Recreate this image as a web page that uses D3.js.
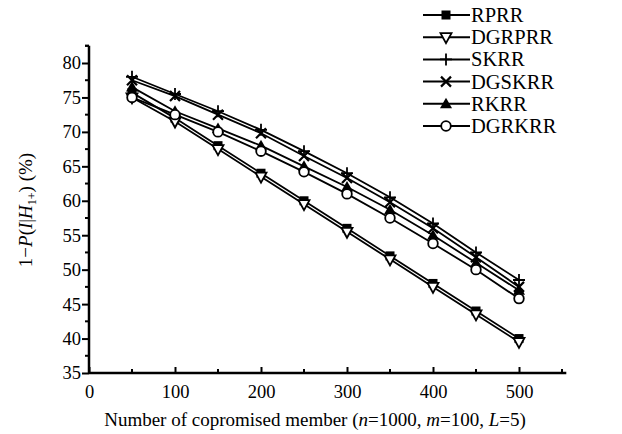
<!DOCTYPE html>
<html>
<head>
<meta charset="utf-8">
<script src="https://cdn.jsdelivr.net/npm/d3@7"></script>
<style>
  html, body { margin: 0; padding: 0; background: #fff; }
  svg text { font-family: "Liberation Serif", "Times New Roman", Times, serif; fill: #000; }
</style>
</head>
<body>
<svg id="chart" width="622" height="434"></svg>
<script>
const xValues = [50, 100, 150, 200, 250, 300, 350, 400, 450, 500];
const seriesNames = ["RPRR", "DGRPRR", "SKRR", "DGSKRR", "RKRR", "DGRKRR"];
const RPRR   = [75.7, 72.0, 68.0, 64.0, 60.0, 56.0, 52.0, 48.0, 44.0, 40.0];
const DGRPRR = [75.0, 71.5, 67.5, 63.5, 59.5, 55.5, 51.5, 47.5, 43.5, 39.5];
const SKRR   = [78.0, 75.5, 73.0, 70.3, 67.2, 64.0, 60.5, 56.7, 52.5, 48.5];
const DGSKRR = [77.5, 75.2, 72.5, 69.8, 66.5, 63.3, 59.8, 56.0, 51.8, 47.5];
const RKRR   = [76.5, 73.0, 70.5, 68.0, 65.0, 62.0, 58.7, 55.0, 51.0, 47.0];
const DGRKRR = [75.0, 72.5, 70.0, 67.2, 64.2, 61.0, 57.5, 53.8, 50.0, 45.8];
const xTicks = [0, 100, 200, 300, 400, 500];
const yTicks = [35, 40, 45, 50, 55, 60, 65, 70, 75, 80];
const markerTypes = ["squareFilled", "triDownOpen", "plus", "cross", "triUpFilled", "circleOpen"];

const seriesData = [RPRR, DGRPRR, SKRR, DGSKRR, RKRR, DGRKRR];
const FONT = '"Liberation Serif", "Times New Roman", Times, serif';

const svg = d3.select("#chart");
const x = d3.scaleLinear().domain([0, 500]).range([89, 519]);
const y = d3.scaleLinear().domain([35, 80]).range([373, 63]);

// axes
const xAxis = d3.axisBottom(x).tickValues(xTicks).tickSize(6).tickSizeOuter(0);
const gx = svg.append("g").attr("transform", `translate(0,${y(35)})`).call(xAxis)
  .attr("font-family", FONT);
gx.select(".domain").remove();
gx.selectAll(".tick line").attr("stroke", "#000").attr("stroke-width", 2).attr("y2", -6);
gx.selectAll(".tick text").attr("y", 12).attr("font-size", 18.5).style("font-family", FONT);
// minor x ticks
const xMinor = d3.range(50, 560, 100);
svg.append("g").selectAll("line").data(xMinor).join("line")
  .attr("x1", d => x(d)).attr("x2", d => x(d))
  .attr("y1", y(35)).attr("y2", y(35) - 4)
  .attr("stroke", "#000").attr("stroke-width", 2);
svg.append("line").attr("x1", x(0)).attr("x2", x(555)).attr("y1", y(35)).attr("y2", y(35))
  .attr("stroke", "#000").attr("stroke-width", 2.5);

const yAxis = d3.axisLeft(y).tickValues(yTicks).tickSize(7).tickSizeOuter(0);
const gy = svg.append("g").attr("transform", `translate(${x(0)},0)`).call(yAxis)
  .attr("font-family", FONT);
gy.select(".domain").remove();
gy.selectAll(".tick line").attr("stroke", "#000").attr("stroke-width", 2);
gy.selectAll(".tick text").attr("x", -8).attr("font-size", 18.5).style("font-family", FONT);
const yMinor = d3.range(37.5, 83, 5);
svg.append("g").selectAll("line").data(yMinor).join("line")
  .attr("x1", x(0)).attr("x2", x(0) - 4)
  .attr("y1", d => y(d)).attr("y2", d => y(d))
  .attr("stroke", "#000").attr("stroke-width", 2);
svg.append("line").attr("x1", x(0)).attr("x2", x(0)).attr("y1", y(35) + 1).attr("y2", y(82.5))
  .attr("stroke", "#000").attr("stroke-width", 2.5);
svg.append("line").attr("x1", x(0) - 4).attr("x2", x(0)).attr("y1", y(82.5)).attr("y2", y(82.5))
  .attr("stroke", "#000").attr("stroke-width", 2);

// axis titles
const xt = svg.append("text").attr("x", 315).attr("y", 426).attr("text-anchor", "middle")
  .attr("font-size", 19).style("font-family", FONT);
xt.append("tspan").text("Number of copromised member (");
xt.append("tspan").attr("font-style", "italic").text("n");
xt.append("tspan").text("=1000, ");
xt.append("tspan").attr("font-style", "italic").text("m");
xt.append("tspan").text("=100, ");
xt.append("tspan").attr("font-style", "italic").text("L");
xt.append("tspan").text("=5)");

const yt = svg.append("text").attr("transform", "translate(32,210) rotate(-90)")
  .attr("text-anchor", "middle").attr("font-size", 19).style("font-family", FONT);
yt.append("tspan").text("1\u2212");
yt.append("tspan").attr("font-style", "italic").text("P");
yt.append("tspan").text("(");
yt.append("tspan").attr("font-style", "italic").text("I");
yt.append("tspan").text("|");
yt.append("tspan").attr("font-style", "italic").text("H");
yt.append("tspan").attr("font-size", 12).attr("dy", 4).text("1+");
yt.append("tspan").attr("dy", -4).text(") (%)");

function drawMarker(g, type, cx, cy) {
  const s = 4.5;
  if (type === "squareFilled") {
    g.append("rect").attr("x", cx - s).attr("y", cy - s).attr("width", 2 * s).attr("height", 2 * s).attr("fill", "#000");
  } else if (type === "triDownOpen") {
    g.append("path").attr("d", `M${cx - 5.5},${cy - 4}L${cx + 5.5},${cy - 4}L${cx},${cy + 6}Z`)
      .attr("fill", "#fff").attr("stroke", "#000").attr("stroke-width", 1.8);
  } else if (type === "plus") {
    g.append("path").attr("d", `M${cx - 6},${cy}L${cx + 6},${cy}M${cx},${cy - 6}L${cx},${cy + 6}`)
      .attr("stroke", "#000").attr("stroke-width", 1.8);
  } else if (type === "cross") {
    g.append("path").attr("d", `M${cx - 5},${cy - 5}L${cx + 5},${cy + 5}M${cx - 5},${cy + 5}L${cx + 5},${cy - 5}`)
      .attr("stroke", "#000").attr("stroke-width", 2.2);
  } else if (type === "triUpFilled") {
    g.append("path").attr("d", `M${cx - 6},${cy + 4.5}L${cx + 6},${cy + 4.5}L${cx},${cy - 6}Z`).attr("fill", "#000");
  } else if (type === "circleOpen") {
    g.append("circle").attr("cx", cx).attr("cy", cy).attr("r", 4.8)
      .attr("fill", "#fff").attr("stroke", "#000").attr("stroke-width", 1.8);
  }
}

const line = d3.line().x((d, i) => x(xValues[i])).y(d => y(d));
const plot = svg.append("g");
seriesData.forEach((vals, k) => {
  plot.append("path").datum(vals).attr("d", line).attr("fill", "none")
    .attr("stroke", "#000").attr("stroke-width", 1.8);
});
seriesData.forEach((vals, k) => {
  const g = plot.append("g");
  vals.forEach((v, i) => drawMarker(g, markerTypes[k], x(xValues[i]), y(v)));
});

// legend
const legend = svg.append("g");
seriesNames.forEach((name, k) => {
  const ly = 15 + k * 22.2;
  legend.append("line").attr("x1", 423).attr("x2", 470).attr("y1", ly).attr("y2", ly)
    .attr("stroke", "#000").attr("stroke-width", 2);
  drawMarker(legend, markerTypes[k], 446, ly);
  legend.append("text").attr("x", 471).attr("y", ly + 7).attr("font-size", 20.5)
    .style("font-family", FONT).text(name);
});
</script>
</body>
</html>
